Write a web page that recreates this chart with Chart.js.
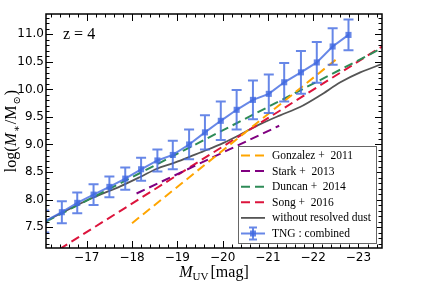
<!DOCTYPE html>
<html>
<head>
<meta charset="utf-8">
<script src="https://cdn.jsdelivr.net/npm/chart.js@4.4.1/dist/chart.umd.min.js"></script>
<style>
    html, body { margin: 0; padding: 0; background: #fff; }
</style>
</head>
<body>
<canvas id="smfChart" width="424" height="283"></canvas>
<script>
// TNG: combined (median + error bars)
const tngMuv  = [-16.06, -16.45, -16.79, -17.15, -17.50, -17.85, -18.20, -18.56, -18.90, -19.26,
                 -19.61, -19.96, -20.31, -20.67, -21.02, -21.36, -21.73, -22.08, -22.43, -22.78];
const tngLogM = [7.60, 7.77, 7.94, 8.09, 8.23, 8.38, 8.55, 8.71, 8.81, 9.00,
                 9.22, 9.43, 9.63, 9.81, 9.92, 10.13, 10.31, 10.49, 10.78, 10.99];
const tngErr  = [0.20, 0.20, 0.19, 0.19, 0.19, 0.20, 0.21, 0.20, 0.26, 0.27,
                 0.31, 0.35, 0.36, 0.35, 0.35, 0.35, 0.39, 0.37, 0.33, 0.28];

// without resolved dust
const dustMuv  = [-16.10, -17.07, -17.74, -18.18, -18.55, -18.91, -19.28, -19.65, -20.02,
                  -20.39, -20.83, -21.27, -21.71, -22.15, -22.60, -23.04, -23.52];
const dustLogM = [7.61, 8.01, 8.24, 8.41, 8.56, 8.66, 8.78, 8.90, 9.03,
                  9.18, 9.37, 9.53, 9.68, 9.89, 10.13, 10.31, 10.46];

// observational relations
const gonzalezMuv = [-18.0, -22.5];
const gonzalezLogM = [7.57, 10.54];
const starkMuv = [-18.1, -21.25];
const starkLogM = [8.11, 9.34];
const duncanMuv = [-16.1, -23.52];
const duncanLogM = [7.60, 10.75];
const songMuv = [-16.4, -23.52];
const songLogM = [7.10, 10.78];

const xTickValues = [-17, -18, -19, -20, -21, -22, -23];
const yTickValues = [7.5, 8.0, 8.5, 9.0, 9.5, 10.0, 10.5, 11.0];

const tngColor = "rgba(65, 105, 225, 0.8)";
const serif = "'Liberation Serif', 'DejaVu Serif', serif";

function pairs(xs, ys) {
    return xs.map((x, i) => ({ x: x, y: ys[i] }));
}

function dashed(label, xs, ys, color) {
    return {
        label: label,
        data: pairs(xs, ys),
        borderColor: color,
        borderWidth: 2,
        borderDash: [9, 5],
        pointRadius: 0,
        fill: false
    };
}

const datasets = [
    dashed("Gonzalez +  2011", gonzalezMuv, gonzalezLogM, "#FFA500"),
    dashed("Stark +  2013", starkMuv, starkLogM, "#800080"),
    dashed("Duncan +  2014", duncanMuv, duncanLogM, "#2E8B57"),
    dashed("Song +  2016", songMuv, songLogM, "#DC143C"),
    {
        label: "without resolved dust",
        data: pairs(dustMuv, dustLogM),
        borderColor: "#555555",
        borderWidth: 1.8,
        pointRadius: 0,
        cubicInterpolationMode: "monotone",
        fill: false
    },
    {
        label: "TNG : combined",
        data: pairs(tngMuv, tngLogM),
        borderColor: tngColor,
        backgroundColor: tngColor,
        borderWidth: 2,
        pointStyle: "rect",
        pointRadius: 4.3,
        pointBorderWidth: 0,
        order: -1,
        fill: false
    }
];

// frame, inward ticks, error bars, legend and math-ish labels
const decorPlugin = {
    id: "decor",
    afterDatasetsDraw(chart) {
        const { ctx, chartArea: a, scales: { x, y } } = chart;
        ctx.save();
        ctx.beginPath();
        ctx.rect(a.left, a.top, a.right - a.left, a.bottom - a.top);
        ctx.clip();
        ctx.strokeStyle = tngColor;
        ctx.lineWidth = 2;
        ctx.beginPath();
        tngMuv.forEach((m, i) => {
            const px = x.getPixelForValue(m);
            const top = y.getPixelForValue(tngLogM[i] + tngErr[i]);
            const bot = y.getPixelForValue(tngLogM[i] - tngErr[i]);
            ctx.moveTo(px, top); ctx.lineTo(px, bot);
            ctx.moveTo(px - 5, top); ctx.lineTo(px + 5, top);
            ctx.moveTo(px - 5, bot); ctx.lineTo(px + 5, bot);
        });
        ctx.stroke();
        ctx.restore();
    },
    afterDraw(chart) {
        const { ctx, chartArea: a, scales: { x, y } } = chart;
        ctx.save();

        // ticks
        ctx.strokeStyle = "#000";
        ctx.lineWidth = 1;
        ctx.beginPath();
        const xTick = (v, len) => {
            const px = Math.round(x.getPixelForValue(v)) + 0.5;
            if (px < a.left || px > a.right) return;
            ctx.moveTo(px, a.bottom); ctx.lineTo(px, a.bottom - len);
            ctx.moveTo(px, a.top); ctx.lineTo(px, a.top + len);
        };
        const yTick = (v, len) => {
            const py = Math.round(y.getPixelForValue(v)) + 0.5;
            if (py < a.top || py > a.bottom) return;
            ctx.moveTo(a.left, py); ctx.lineTo(a.left + len, py);
            ctx.moveTo(a.right, py); ctx.lineTo(a.right - len, py);
        };
        for (let k = 80; k <= 118; k++) xTick(-k / 5, k % 5 === 0 ? 7 : 3.5);
        for (let k = 72; k <= 113; k++) yTick(k / 10, k % 5 === 0 ? 7 : 3.5);
        ctx.stroke();

        ctx.lineWidth = 1.5;
        ctx.strokeRect(a.left, a.top, a.right - a.left, a.bottom - a.top);

        // z label
        ctx.fillStyle = "#000";
        ctx.font = "16px " + serif;
        ctx.textBaseline = "alphabetic";
        ctx.textAlign = "left";
        ctx.fillText("z = 4", 63, 39);

        // legend
        const lx = 238, ly = 146, lw = 138, lh = 97;
        ctx.fillStyle = "#fff";
        ctx.fillRect(lx, ly, lw, lh);
        ctx.strokeStyle = "#666";
        ctx.lineWidth = 1;
        ctx.strokeRect(lx + 0.5, ly + 0.5, lw, lh);
        chart.data.datasets.forEach((ds, i) => {
            const ry = ly + 9.5 + i * 15.6;
            ctx.save();
            ctx.strokeStyle = ds.borderColor;
            ctx.lineWidth = ds.borderWidth;
            ctx.setLineDash(ds.borderDash ? [9, 5] : []);
            ctx.beginPath();
            ctx.moveTo(241, ry); ctx.lineTo(265, ry);
            ctx.stroke();
            ctx.setLineDash([]);
            if (ds.pointStyle === "rect") {
                ctx.beginPath();
                ctx.moveTo(253, ry - 6); ctx.lineTo(253, ry + 6);
                ctx.moveTo(249, ry - 6); ctx.lineTo(257, ry - 6);
                ctx.moveTo(249, ry + 6); ctx.lineTo(257, ry + 6);
                ctx.stroke();
                ctx.fillStyle = ds.backgroundColor;
                ctx.fillRect(250, ry - 3, 6, 6);
            }
            ctx.restore();
            ctx.fillStyle = "#000";
            ctx.font = "11.5px " + serif;
            ctx.textBaseline = "middle";
            ctx.fillText(ds.label, 272, ry + 0.5);
        });

        // x title: M_UV [mag]
        ctx.textBaseline = "alphabetic";
        const pieces = (list) => {
            let w = 0;
            list.forEach(p => { ctx.font = p.f; w += ctx.measureText(p.t).width + (p.gap || 0); });
            return w;
        };
        const xt = [
            { t: "M", f: "italic 16px " + serif, dy: 0 },
            { t: "UV", f: "11px " + serif, dy: 3, gap: 2 },
            { t: "[mag]", f: "16px " + serif, dy: 0 }
        ];
        let cx = (a.left + a.right) / 2 - pieces(xt) / 2;
        xt.forEach(p => {
            ctx.font = p.f;
            ctx.fillText(p.t, cx, 277 + p.dy);
            cx += ctx.measureText(p.t).width + (p.gap || 0);
        });

        // y title: log(M_*/M_sun)
        const yt = [
            { t: "log(", f: "16px " + serif, dy: 0 },
            { t: "M", f: "italic 16px " + serif, dy: 0, gap: 1 },
            { t: "\u2217", f: "10px " + serif, dy: 4, gap: 1 },
            { t: "/M", f: "16px " + serif, dy: 0, gap: 1 },
            { t: "\u2299", f: "10px " + serif, dy: 4, gap: 1 },
            { t: ")", f: "16px " + serif, dy: 0 }
        ];
        ctx.translate(16, (a.top + a.bottom) / 2);
        ctx.rotate(-Math.PI / 2);
        let cy = -pieces(yt) / 2;
        yt.forEach(p => {
            ctx.font = p.f;
            ctx.fillText(p.t, cy, p.dy);
            cy += ctx.measureText(p.t).width + (p.gap || 0);
        });
        ctx.restore();
    }
};

document.addEventListener("DOMContentLoaded", function () {
    const canvas = document.getElementById("smfChart");
    const tickFont = { family: "'DejaVu Sans', sans-serif", size: 12 };

    new Chart(canvas, {
        type: "line",
        data: { datasets: datasets },
        options: {
            responsive: false,
            animation: false,
            devicePixelRatio: 1,
            layout: { padding: { top: 14, right: 42, left: 0, bottom: 0 } },
            plugins: {
                legend: { display: false },
                tooltip: { enabled: false }
            },
            scales: {
                x: {
                    type: "linear",
                    reverse: true,
                    min: -23.52,
                    max: -16.1,
                    afterBuildTicks: s => { s.ticks = xTickValues.map(v => ({ value: v })); },
                    afterFit: s => { s.height = 35; },
                    grid: { display: false, drawTicks: false },
                    border: { display: false },
                    ticks: {
                        color: "#000",
                        font: tickFont,
                        padding: 3,
                        maxRotation: 0,
                        autoSkip: false,
                        callback: v => "\u2212" + Math.abs(v)
                    }
                },
                y: {
                    type: "linear",
                    min: 7.12,
                    max: 11.37,
                    afterBuildTicks: s => { s.ticks = yTickValues.map(v => ({ value: v })); },
                    afterFit: s => { s.width = 46; },
                    grid: { display: false, drawTicks: false },
                    border: { display: false },
                    ticks: {
                        color: "#000",
                        font: tickFont,
                        padding: 2,
                        autoSkip: false,
                        callback: v => v.toFixed(1)
                    }
                }
            }
        },
        plugins: [decorPlugin]
    });
});
</script>
</body>
</html>
